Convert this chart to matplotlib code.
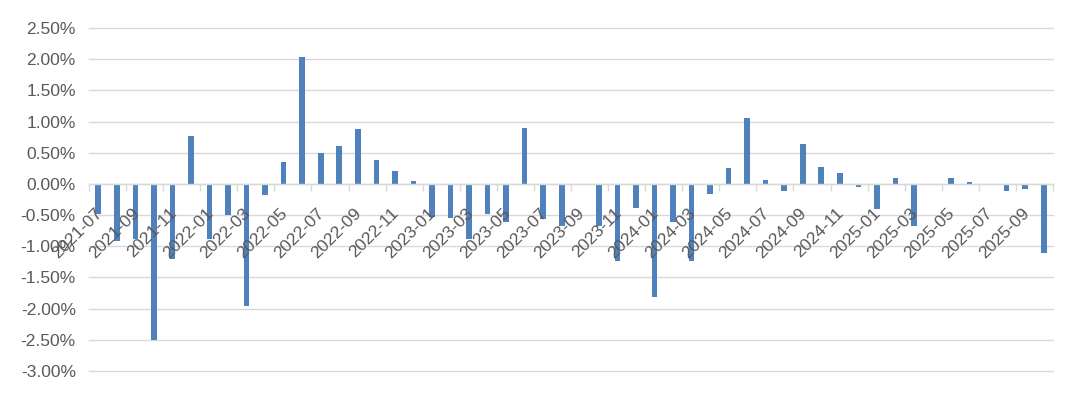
import numpy as np
import matplotlib
matplotlib.use("Agg")
import matplotlib.pyplot as plt
from matplotlib.ticker import FuncFormatter
from matplotlib.transforms import ScaledTranslation

plt.rcParams['font.family'] = ['Liberation Sans', 'DejaVu Sans']

# monthly values, 2021-07 .. 2025-10 (in %)
months = [f"{y}-{m:02d}" for y in range(2021, 2026) for m in range(1, 13)]
months = months[months.index("2021-07"):months.index("2025-10") + 1]

values = [
    -0.49, -0.91, -0.89, -2.50, -1.20, 0.77,          # 2021-07 .. 2021-12
    -0.89, -0.50, -1.95, -0.18, 0.35, 2.04,           # 2022-01 .. 2022-06
    0.49, 0.61, 0.88, 0.39, 0.20, 0.04,               # 2022-07 .. 2022-12
    -0.53, -0.55, -0.88, -0.49, -0.61, 0.89,          # 2023-01 .. 2023-06
    -0.57, -0.68, -0.02, -0.68, -1.23, -0.39,         # 2023-07 .. 2023-12
    -1.82, -0.61, -1.23, -0.16, 0.25, 1.06,           # 2024-01 .. 2024-06
    0.06, -0.12, 0.645, 0.27, 0.17, -0.05,            # 2024-07 .. 2024-12
    -0.40, 0.09, -0.67, -0.01, 0.09, 0.03,            # 2025-01 .. 2025-06
    -0.01, -0.11, -0.08, -1.11,                       # 2025-07 .. 2025-10
]

fig = plt.figure(figsize=(10.8, 3.99), dpi=100)
ax = fig.add_axes([0.0824, 0.0702, 0.8926, 0.8596])

x = np.arange(len(months))
ax.bar(x, values, width=0.3, color='#4F81BD', zorder=2)

ax.set_xlim(-0.5, len(months) - 0.5)
ax.set_ylim(-3.0, 2.5)
ax.set_yticks(np.arange(-3.0, 2.51, 0.5))
ax.yaxis.set_major_formatter(FuncFormatter(lambda v, p: f"{v:.2f}%"))
ax.yaxis.grid(True, color='#D9D9D9', linewidth=1.0)
for gl in ax.yaxis.get_gridlines():
    gl.set_clip_on(False)
ax.tick_params(axis='y', length=0, pad=9.5, labelsize=12.5, labelcolor='#595959')

for s in ['top', 'right', 'left']:
    ax.spines[s].set_visible(False)
ax.spines['bottom'].set_position(('data', 0))
ax.spines['bottom'].set_color('#D9D9D9')
ax.spines['bottom'].set_linewidth(1.0)
ax.spines['bottom'].set_zorder(2.5)

# tick marks on category boundaries every 2 months, labels on every other month
ax.set_xticks(np.arange(-0.5, len(months), 2))
ax.set_xticklabels([])
ax.set_xticks(x[::2], minor=True)
ax.set_xticklabels(months[::2], minor=True, rotation=45, ha='right',
                   va='center', rotation_mode='anchor')
ax.tick_params(axis='x', which='major', length=5, color='#D9D9D9', width=1)
ax.tick_params(axis='x', which='minor', length=0, pad=19.5, labelsize=12.5,
               labelcolor='#595959')
shift = ScaledTranslation(1 / 72, 0, fig.dpi_scale_trans)
for lbl in ax.get_xticklabels(minor=True):
    lbl.set_transform(lbl.get_transform() + shift)

ax.set_axisbelow(True)
ax.xaxis.set_zorder(3)

fig.savefig("out.png", dpi=100, facecolor='white')
